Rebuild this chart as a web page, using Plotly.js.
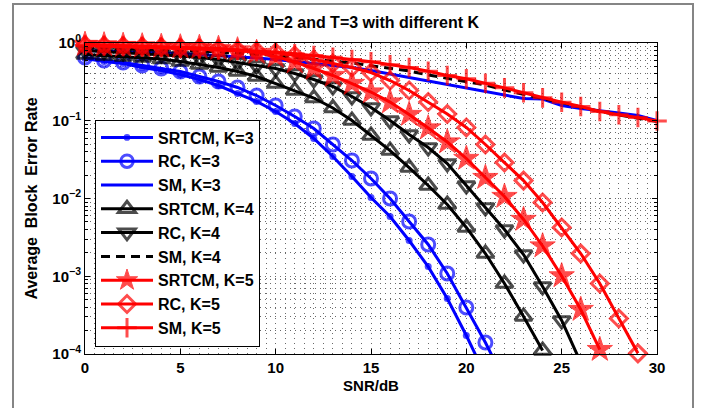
<!DOCTYPE html>
<html><head><meta charset="utf-8">
<script src="https://cdn.plot.ly/plotly-3.0.1.min.js"></script>
<style>html,body{margin:0;padding:0;background:#fff;overflow:hidden;} #chart{width:706px;height:408px;}</style>
</head><body><div id="chart"></div>
<script>
// ---------- data ----------
const snr = [0,1,2,3,4,5,6,7,8,9,10,11,12,13,14,15,16,17,18,19,20,21,22,23,24,25,26,27,28,29,30];

const srtcmK3 = [0.632,0.578,0.545,0.484,0.443,0.393,0.339,0.284,0.224,0.177,0.1315,0.0922,0.0591,0.0347,0.0192,0.0103,0.00587,0.00288,0.00133,5.17e-4,1.73e-4,5.3e-5];
const rcK3    = [0.651,0.596,0.561,0.514,0.470,0.430,0.371,0.320,0.268,0.211,0.157,0.1134,0.0795,0.0495,0.0308,0.0181,0.0100,0.00506,0.00256,0.001085,3.96e-4,1.405e-4,4.56e-5];
const smK3    = [0.801,0.789,0.777,0.766,0.755,0.733,0.711,0.691,0.671,0.641,0.613,0.578,0.545,0.514,0.484,0.443,0.399,0.360,0.325,0.288,0.260,0.234,0.211,0.193,0.190,0.157,0.1438,0.1355,0.1258,0.1168,0.1007];
const srtcmK4 = [0.711,0.691,0.671,0.651,0.623,0.578,0.529,0.484,0.430,0.371,0.301,0.245,0.196,0.146,0.1007,0.0646,0.0414,0.0250,0.0147,0.00837,0.00424,0.00196,8.07e-4,3.04e-4,1.11e-4];
const rcK4    = [0.801,0.777,0.755,0.733,0.711,0.681,0.651,0.613,0.561,0.514,0.470,0.405,0.339,0.276,0.205,0.148,0.1007,0.0666,0.0453,0.0282,0.0147,0.00766,0.00399,0.00190,7.38e-4,2.70e-4,7.78e-5];
const smK4    = [0.875,0.862,0.850,0.837,0.825,0.813,0.789,0.766,0.744,0.722,0.691,0.651,0.623,0.587,0.553,0.514,0.477,0.436,0.388,0.350,0.315,0.288,0.249,0.218,0.193,0.1717,0.1502,0.1315,0.1186,0.1085,0.0978];
const srtcmK5 = [0.957,0.943,0.929,0.915,0.902,0.888,0.875,0.850,0.813,0.755,0.671,0.569,0.470,0.382,0.301,0.234,0.174,0.1203,0.0807,0.0533,0.0327,0.0186,0.0106,0.00537,0.00245,0.00101,3.73e-4,1.14e-4];
const rcK5    = [0.943,0.929,0.915,0.902,0.888,0.875,0.862,0.837,0.813,0.789,0.755,0.691,0.613,0.545,0.484,0.417,0.329,0.245,0.174,0.1221,0.0819,0.0495,0.0290,0.0170,0.00888,0.00424,0.00196,8.07e-4,2.86e-4,1.02e-4];
const smK5    = [0.929,0.915,0.902,0.888,0.875,0.850,0.837,0.813,0.801,0.777,0.762,0.726,0.691,0.657,0.613,0.573,0.526,0.484,0.434,0.382,0.346,0.304,0.265,0.229,0.197,0.173,0.1525,0.1315,0.1193,0.1101,0.0993];

const seriesNames = ['SRTCM, K=3','RC, K=3','SM, K=3','SRTCM, K=4','RC, K=4','SM, K=4','SRTCM, K=5','RC, K=5','SM, K=5'];

const yTickVals  = [1e-4, 1e-3, 1e-2, 1e-1, 1];
const yTickText  = ['10<sup>\u22124</sup>','10<sup>\u22123</sup>','10<sup>\u22122</sup>','10<sup>\u22121</sup>','10<sup>0</sup>'];
const yMinorVals = [2e-4,3e-4,4e-4,5e-4,6e-4,7e-4,8e-4,9e-4,2e-3,3e-3,4e-3,5e-3,6e-3,7e-3,8e-3,9e-3,2e-2,3e-2,4e-2,5e-2,6e-2,7e-2,8e-2,9e-2,0.2,0.3,0.4,0.5,0.6,0.7,0.8,0.9];

// ---------- styling ----------
const BLUE = '#0000ff', BLACK = '#000000', RED = '#ff0000';
const FONT = 'Liberation Sans, Arial, Helvetica, sans-serif';
const LW = 3;
const YMIN = 1e-4;

function sizes(vals, s){ return vals.map(v => v < YMIN*0.999 ? 0 : s); }

function tr(vals, name, color, sym, size, opts){
  opts = opts || {};
  const t = {
    x: snr.slice(0, vals.length), y: vals, name: name, type: 'scatter',
    mode: sym ? 'lines+markers' : 'lines',
    cliponaxis: false,
    line: {color: color, width: LW, dash: opts.dash || 'solid'},
  };
  if (sym) {
    t.marker = {symbol: sym, size: sizes(vals, size), color: opts.fill || color,
                line: {color: color, width: opts.mlw === undefined ? 3 : opts.mlw}};
  }
  return t;
}

const data = [
  tr(srtcmK3, seriesNames[0], BLUE, 'circle', 7, {mlw: 0}),
  tr(rcK3,    seriesNames[1], BLUE, 'circle-open', 13),
  tr(smK3,    seriesNames[2], BLUE, null),
  tr(srtcmK4, seriesNames[3], BLACK, 'triangle-up-open', 15),
  tr(rcK4,    seriesNames[4], BLACK, 'triangle-down-open', 15),
  tr(smK4,    seriesNames[5], BLACK, null, 0, {dash: '9px,6px'}),
  tr(srtcmK5, seriesNames[6], RED, 'star', 19, {mlw: 1}),
  tr(rcK5,    seriesNames[7], RED, 'diamond-open', 13),
  tr(smK5,    seriesNames[8], RED, 'cross-thin-open', 14, {mlw: 3}),
];

const GRID = '#6a6a6a';
const GDASH = '1px,4px';
const tickFont = {family: FONT, size: 15, color: '#000', weight: 'bold'};

const layout = {
  width: 706, height: 408,
  margin: {l: 85, r: 49, t: 43, b: 54, pad: 0},
  paper_bgcolor: '#fff', plot_bgcolor: '#fff',
  showlegend: true,
  title: {text: 'N=2 and T=3 with different K', font: {family: FONT, size: 16, color: '#000', weight: 'bold'},
          x: 0.5, xref: 'paper', xanchor: 'center', y: 1 - 22/408, yanchor: 'middle'},
  xaxis: {
    range: [0, 30], tick0: 0, dtick: 5, ticks: 'inside', ticklen: 5, tickwidth: 1, tickcolor: '#000',
    showline: true, linecolor: '#000', linewidth: 1, mirror: 'ticks', zeroline: false,
    showgrid: true, gridcolor: GRID, gridwidth: 1, griddash: GDASH,
    minor: {dtick: 0.5, showgrid: true, gridcolor: GRID, gridwidth: 1, griddash: GDASH, ticks: ''},
    tickfont: tickFont,
    title: {text: 'SNR/dB', font: {family: FONT, size: 15, color: '#000', weight: 'bold'}, standoff: 5},
  },
  yaxis: {
    type: 'log', range: [-4, 0], tickmode: 'array', tickvals: yTickVals, ticktext: yTickText,
    ticks: 'inside', ticklen: 5, tickwidth: 1, tickcolor: '#000',
    showline: true, linecolor: '#000', linewidth: 1, mirror: 'ticks', zeroline: false,
    showgrid: true, gridcolor: GRID, gridwidth: 1, griddash: GDASH,
    minor: {tickmode: 'array', tickvals: yMinorVals, showgrid: true, gridcolor: GRID, gridwidth: 1, griddash: GDASH,
            ticks: 'inside', ticklen: 3, tickcolor: '#000'},
    tickfont: tickFont,
    title: {text: 'Average\u00a0 Block\u00a0 Error Rate', font: {family: FONT, size: 16, color: '#000', weight: 'bold'}, standoff: 10},
  },
  legend: {
    x: 0.0175, y: 0.754, xanchor: 'left', yanchor: 'top',
    bgcolor: '#fff', bordercolor: '#000', borderwidth: 1,
    font: {family: FONT, size: 16, color: '#000', weight: 'bold'},
    itemwidth: 52, tracegroupgap: 0,
  },
  shapes: [
    {type: 'rect', xref: 'paper', yref: 'paper', x0: (13-85)/572, x1: (693-85)/572, y0: -0.25, y1: (354-4)/311,
     line: {color: '#858585', width: 2}, fillcolor: 'rgba(0,0,0,0)', layer: 'below'}
  ],
};

Plotly.newPlot('chart', data, layout, {staticPlot: true, displayModeBar: false});
</script>
</body></html>
